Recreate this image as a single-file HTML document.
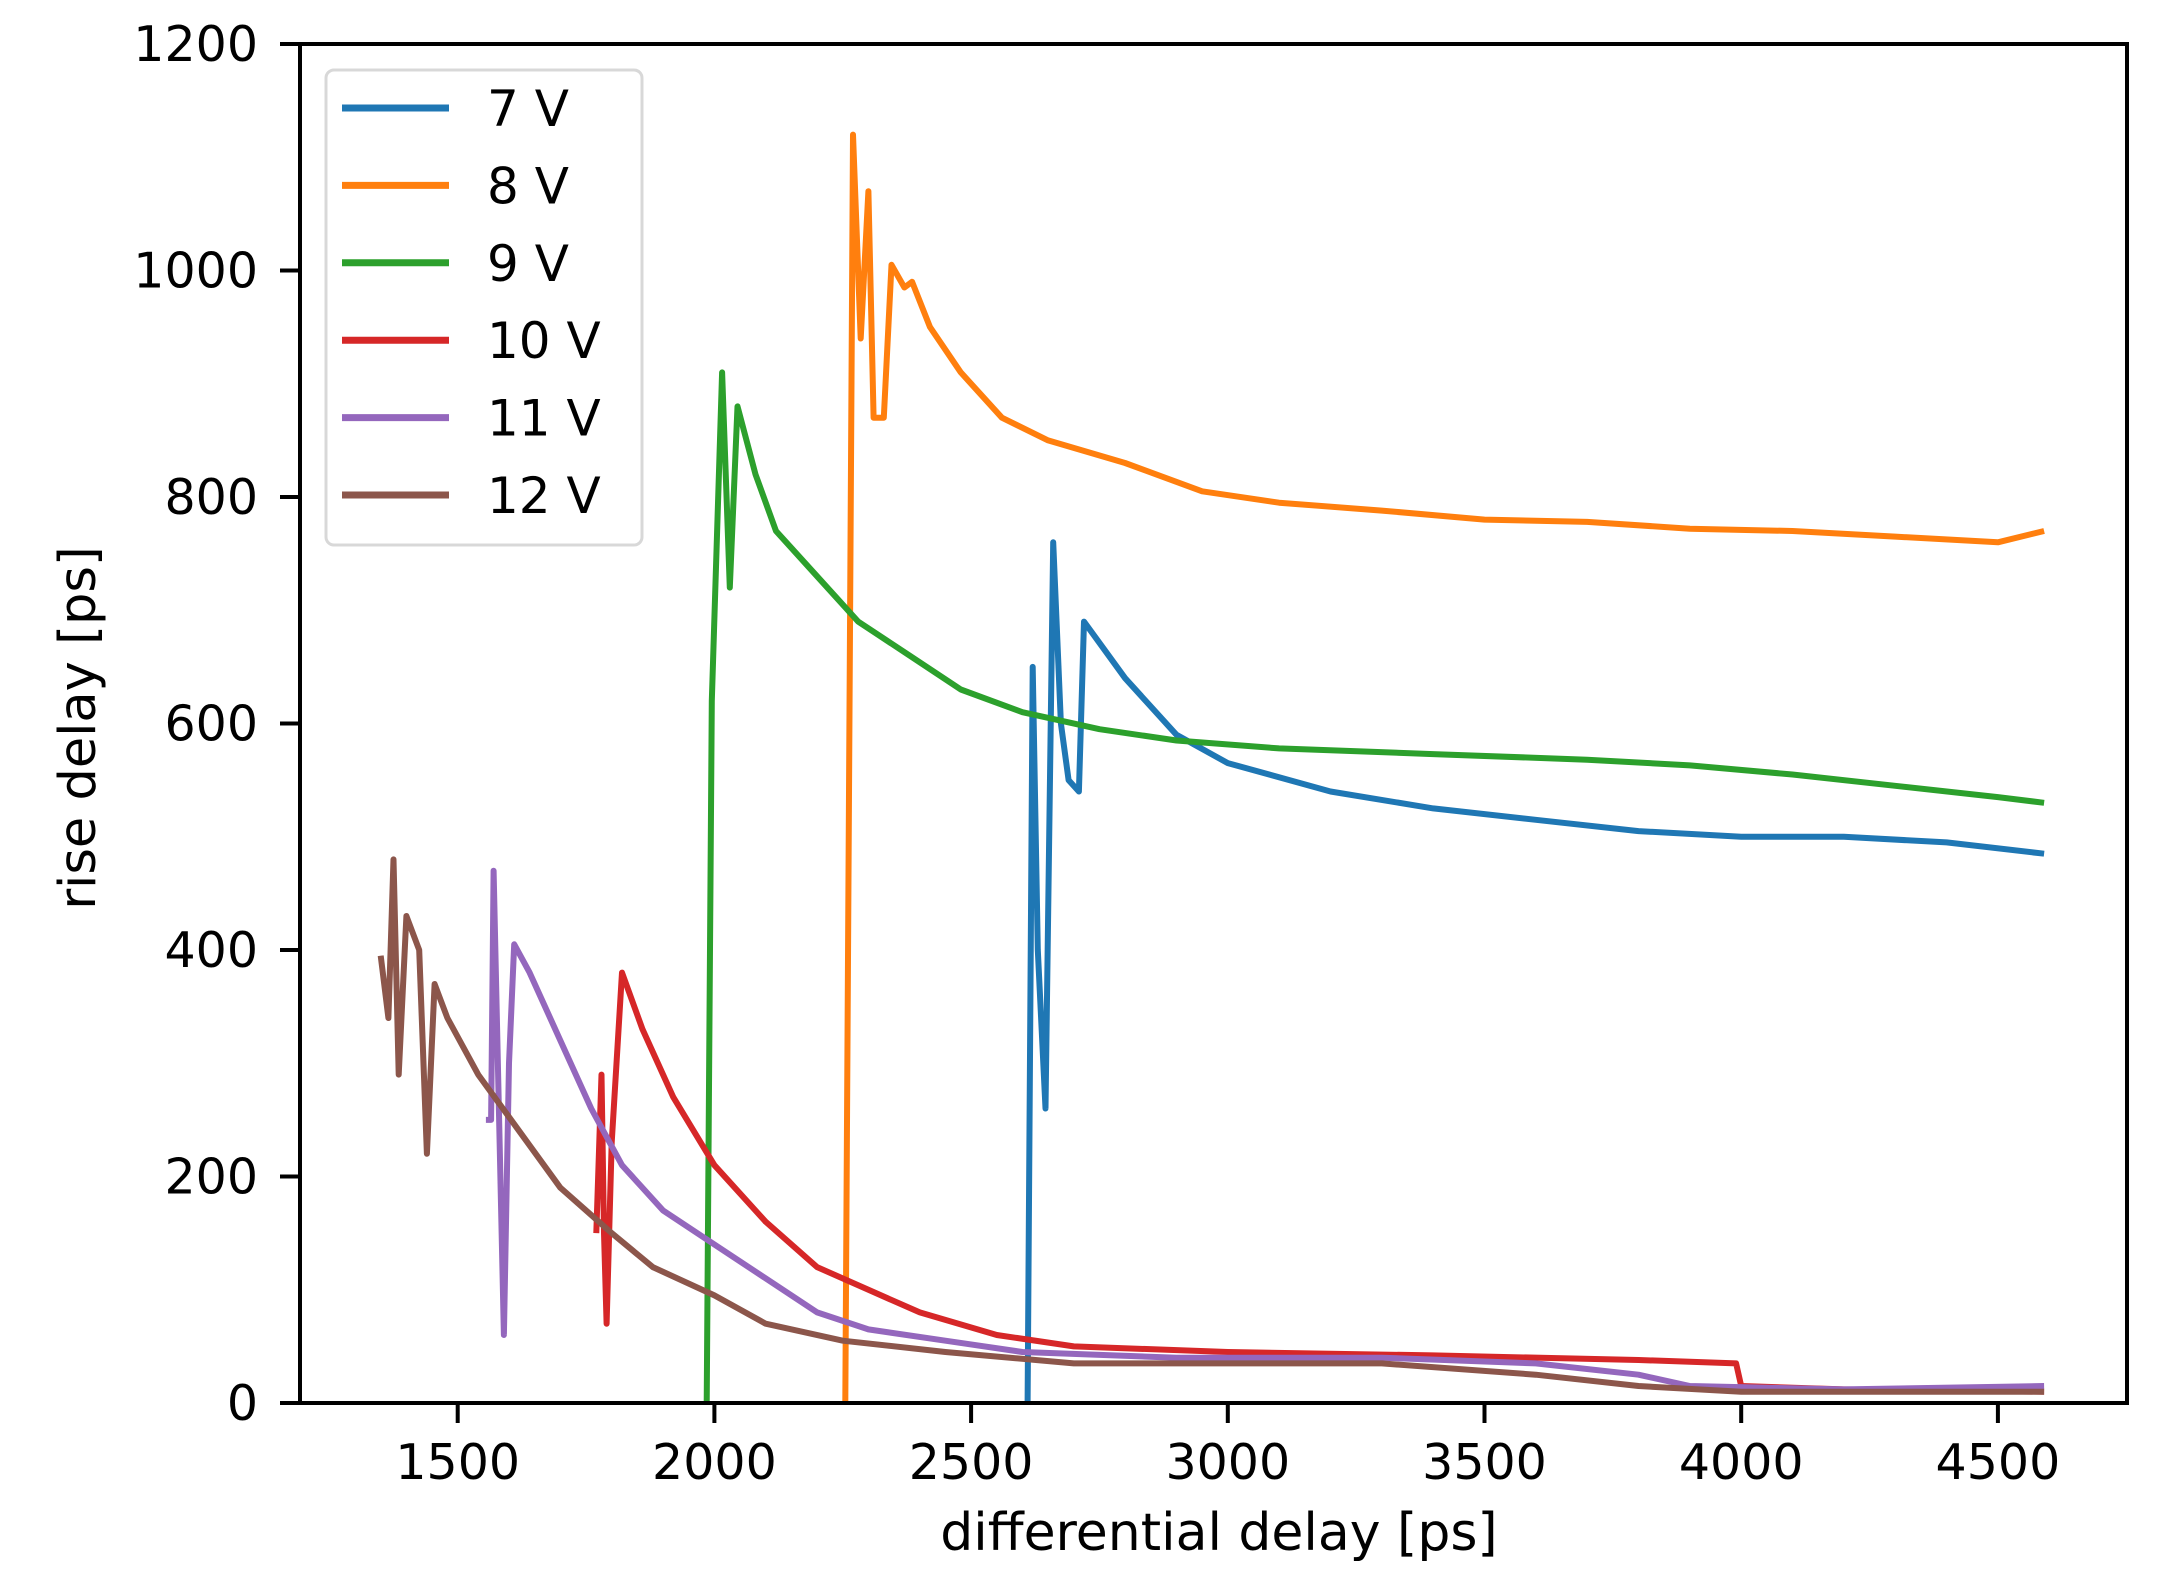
<!DOCTYPE html>
<html><head><meta charset="utf-8"><style>
html,body{margin:0;padding:0;background:#fff;}
svg{display:block;font-family:"DejaVu Sans","Liberation Sans",sans-serif;}
</style></head><body>
<svg id="chart" width="2159" height="1594" viewBox="0 0 2159 1594">
<rect x="0" y="0" width="2159" height="1594" fill="#fff"/>
<g id="plot"></g>
<g id="axes"></g>
<text x="1219" y="1550" font-size="52" text-anchor="middle">differential delay [ps]</text>
<text x="0" y="0" font-size="51" text-anchor="middle" transform="translate(95,728) rotate(-90)">rise delay [ps]</text>
<g id="legend"></g>
</svg>
<script>
const xTicks=[1500,2000,2500,3000,3500,4000,4500];
const yTicks=[0,200,400,600,800,1000,1200];
const seriesNames=["7 V","8 V","9 V","10 V","11 V","12 V"];
const seriesColors=["#1f77b4","#ff7f0e","#2ca02c","#d62728","#9467bd","#8c564b"];
const x7=[2610,2620,2630,2645,2660,2675,2690,2710,2720,2800,2900,3000,3200,3400,3600,3800,4000,4200,4400,4590];
const y7=[0,650,400,260,760,600,550,540,690,640,590,565,540,525,515,505,500,500,495,485];
const x8=[2255,2270,2285,2300,2310,2330,2345,2370,2385,2420,2480,2560,2650,2800,2950,3100,3300,3500,3700,3900,4100,4300,4500,4590];
const y8=[0,1120,940,1070,870,870,1005,985,990,950,910,870,850,830,805,795,788,780,778,772,770,765,760,770];
const x9=[1985,1995,2015,2030,2045,2080,2120,2200,2280,2380,2480,2600,2750,2900,3100,3400,3700,3900,4100,4300,4500,4590];
const y9=[0,620,910,720,880,820,770,730,690,660,630,610,595,585,578,573,568,563,555,545,535,530];
const x10=[1770,1780,1785,1790,1800,1820,1860,1920,2000,2100,2200,2300,2400,2550,2700,3000,3400,3800,3990,4000,4200,4590];
const y10=[150,290,150,70,230,380,330,270,210,160,120,100,80,60,50,45,42,38,35,15,12,10];
const x11=[1555,1565,1570,1590,1600,1610,1640,1700,1760,1820,1900,2000,2100,2200,2300,2450,2600,2900,3300,3600,3800,3900,4200,4590];
const y11=[250,250,470,60,300,405,380,320,260,210,170,140,110,80,65,55,45,40,40,35,25,15,12,15];
const x12=[1350,1365,1375,1385,1400,1425,1440,1455,1480,1540,1620,1700,1800,1880,2000,2100,2250,2450,2700,3000,3300,3600,3800,4000,4590];
const y12=[395,340,480,290,430,400,220,370,340,290,240,190,150,120,95,70,55,45,35,35,35,25,15,10,10];
const seriesX=[x7,x8,x9,x10,x11,x12];
const seriesY=[y7,y8,y9,y10,y11,y12];

const NS="http://www.w3.org/2000/svg";
const L=300,R=2127,T=44,B=1403;
function xs(v){return 457.7+(v-1500)*0.5134;}
function ys(v){return B-v*(B-T)/1200;}
function mk(tag,attrs,parent){const e=document.createElementNS(NS,tag);for(const k in attrs)e.setAttribute(k,attrs[k]);parent.appendChild(e);return e;}

const plot=document.getElementById('plot');
const clip=mk('clipPath',{id:'pc'},plot);
mk('rect',{x:L,y:T,width:R-L,height:B-T},clip);
seriesX.forEach((xa,i)=>{
  const pts=xa.map((x,j)=>xs(x).toFixed(1)+','+ys(seriesY[i][j]).toFixed(1)).join(' ');
  const pl=mk('polyline',{points:pts,fill:'none',stroke:seriesColors[i],'stroke-width':6,'stroke-linejoin':'round','clip-path':'url(#pc)'},plot);
  
  
});

const axes=document.getElementById('axes');
const frame=mk('rect',{x:L,y:T,width:R-L,height:B-T,fill:'none',stroke:'#000','stroke-width':4},axes);


xTicks.forEach(t=>{
  const x=xs(t);
  const tk=mk('line',{x1:x,x2:x,y1:B,y2:B+20,stroke:'#000','stroke-width':4},axes);
  
  
  const tx=mk('text',{x:x,y:B+76,'font-size':49,'text-anchor':'middle'},axes);
  tx.textContent=t;
  
  
});
yTicks.forEach(t=>{
  const y=ys(t);
  const tk=mk('line',{x1:L-20,x2:L,y1:y,y2:y,stroke:'#000','stroke-width':4},axes);
  
  
  const tx=mk('text',{x:258,y:y+17,'font-size':49,'text-anchor':'end'},axes);
  tx.textContent=t;
  
  
});

const leg=document.getElementById('legend');
const lb=mk('rect',{x:326,y:70,width:316,height:475,rx:8,fill:'#fff',stroke:'#d8d8d8','stroke-width':3},leg);


seriesNames.forEach((n,i)=>{
  const y=108+i*77.4;
  const g=mk('g',{},leg);
  
  
  mk('line',{x1:342,x2:449,y1:y,y2:y,stroke:seriesColors[i],'stroke-width':7},g);
  const t=mk('text',{x:487,y:y+18,'font-size':50},g);
  t.textContent=n;
});
</script>
</body></html>
